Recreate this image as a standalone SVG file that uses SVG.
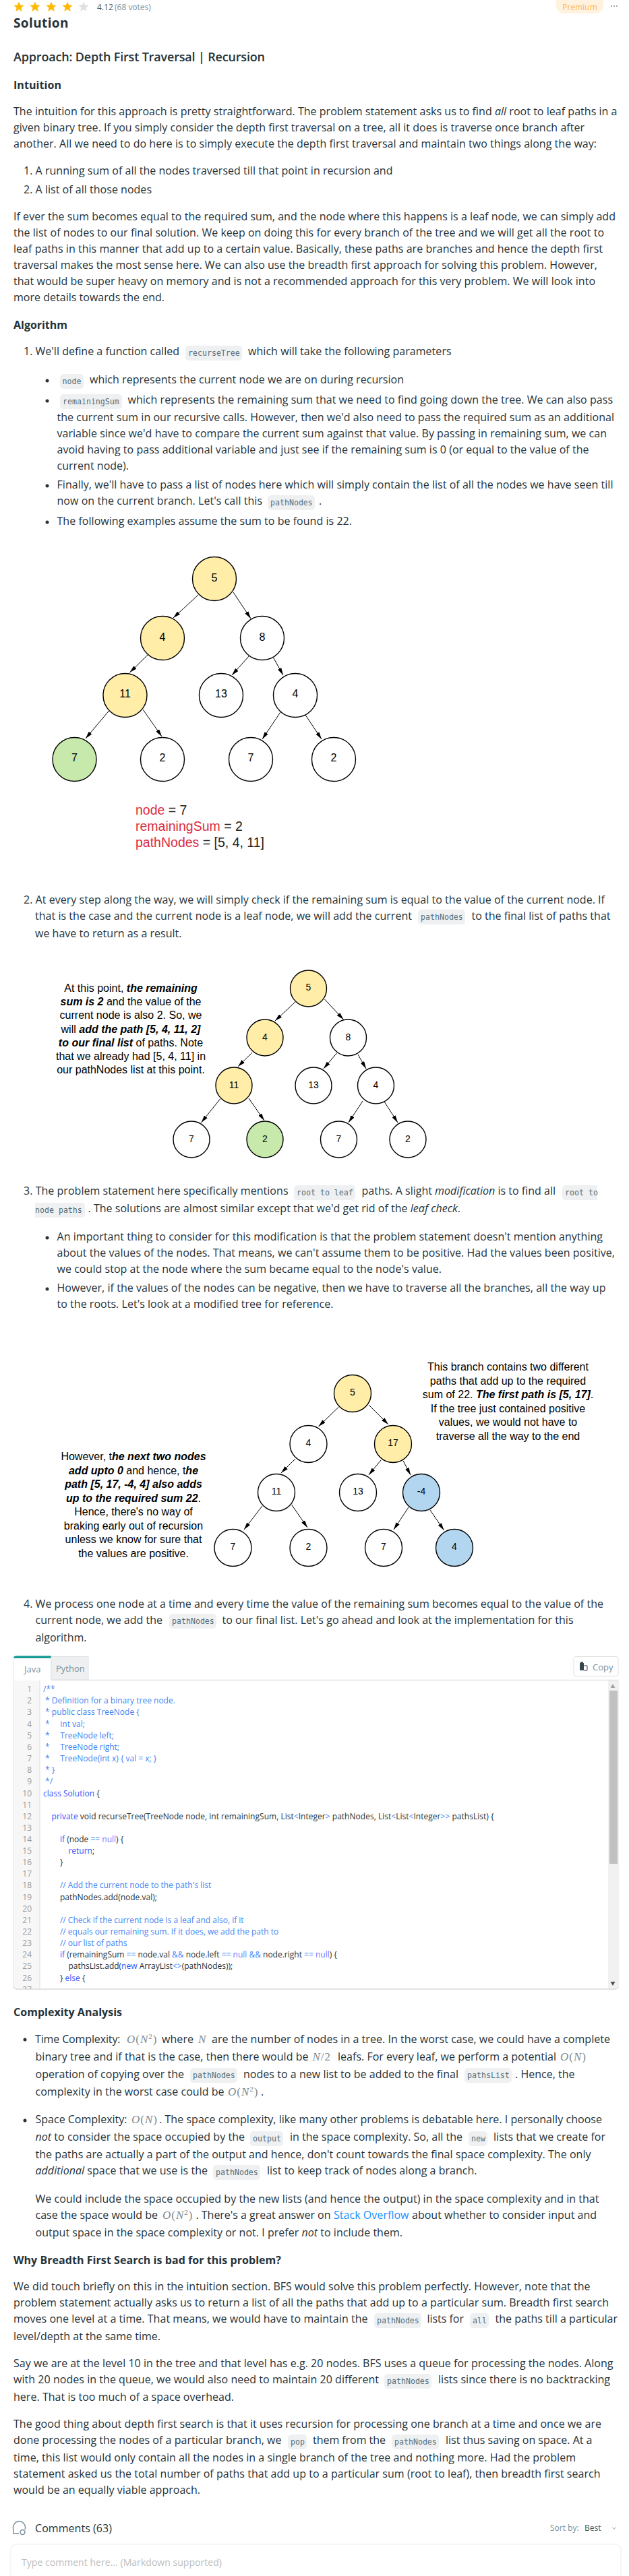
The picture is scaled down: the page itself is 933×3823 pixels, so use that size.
<svg xmlns="http://www.w3.org/2000/svg" width="933" height="3823" viewBox="0 0 933 3823">
<style>
text{font-family:"Open Sans","Noto Sans",sans-serif;font-size:16px;fill:#263238;white-space:pre}
.h1{font-size:19px;font-weight:700}
.h2{font-size:18px;font-weight:600}
.h3{font-size:16px;font-weight:700}
.i{font-style:italic}
.mono{font-family:"DejaVu Sans Mono",monospace;font-size:11.6px;fill:#546e7a}
.pill{fill:#eff0f1}
.m{font-family:"Liberation Serif",serif;font-size:17px;fill:#7f8a90;letter-spacing:1px}
.mi{font-style:italic}
.sup{font-size:11px}
.bul{fill:#263238}
.edge{stroke:#000;stroke-width:1;fill:none;marker-end:url(#arrow)}
.n{stroke:#000;stroke-width:1.4;fill:#fff}
.y{fill:#ffeda8}.g{fill:#c7e9ac}.b{fill:#b3d6f0}
.lb{font-family:"Liberation Sans",Arial,sans-serif;font-size:16px;fill:#000;text-anchor:middle}
.ls{font-size:14px}
.note{font-family:"Liberation Sans",Arial,sans-serif;font-size:16px;fill:#000;text-anchor:middle}
.note tspan.e{font-weight:700;font-style:italic}
.red{font-family:"Liberation Sans",Arial,sans-serif;font-size:19.5px;fill:#222}
.red tspan{fill:#db2c42}
.c{font-size:12px;fill:#263238}
.cc{fill:#4285f4}.ck{fill:#2f55ff}.cn{fill:#7a7aff}.co{fill:#3b82ff}
.ln{font-size:12px;fill:#999;text-anchor:end}
</style>
<defs>
<marker id="arrow" markerUnits="userSpaceOnUse" viewBox="0 0 11 6" refX="11" refY="3" markerWidth="11" markerHeight="6" orient="auto"><path d="M0 0L11 3L0 6Z" fill="#000"/></marker>
<polygon id="star" points="0,-8 2.12,-2.91 7.6,-2.47 3.42,1.11 4.7,6.47 0,3.6 -4.7,6.47 -3.42,1.11 -7.6,-2.47 -2.12,-2.91"/>
<clipPath id="codeclip"><rect x="20" y="2493" width="897" height="459"/></clipPath>
</defs>
<rect width="933" height="3823" fill="#fff"/>

<g id="header">
<use href="#star" x="28" y="10.5" fill="#ffb800"/><use href="#star" x="52" y="10.5" fill="#ffb800"/><use href="#star" x="76" y="10.5" fill="#ffb800"/><use href="#star" x="100" y="10.5" fill="#ffb800"/><use href="#star" x="124" y="10.5" fill="#e0e0e0"/>
<text x="144" y="15" style="font-size:12px;fill:#455a64">4.12</text>
<text x="170" y="15" style="font-size:12px;fill:#78909c">(68 votes)</text>
<rect x="825" y="-10" width="70" height="30" rx="12" fill="#fff3e0"/>
<text x="860" y="15" style="font-size:12px;fill:#ffb74d;text-anchor:middle">Premium</text>
<circle cx="907" cy="9" r="1" fill="#78909c"/><circle cx="911" cy="9" r="1" fill="#78909c"/><circle cx="915" cy="9" r="1" fill="#78909c"/>
<text class="h1" x="20" y="41" textLength="81.500">Solution</text>
<text class="h2" x="20" y="91" textLength="373">Approach: Depth First Traversal | Recursion</text>
<text class="h3" x="20" y="132" textLength="71">Intuition</text>
</g>

<g id="intuition">
<text x="20" y="171" textLength="895.500">The intuition for this approach is pretty straightforward. The problem statement asks us to find <tspan class="i">all</tspan> root to leaf paths in a</text>
<text x="20" y="195" textLength="847">given binary tree. If you simply consider the depth first traversal on a tree, all it does is traverse once branch after</text>
<text x="20" y="219" textLength="865">another. All we need to do here is to simply execute the depth first traversal and maintain two things along the way:</text>
<text x="35" y="259" textLength="547.500">1. A running sum of all the nodes traversed till that point in recursion and</text>
<text x="35" y="287" textLength="190">2. A list of all those nodes</text>
<text x="20" y="327" textLength="893">If ever the sum becomes equal to the required sum, and the node where this happens is a leaf node, we can simply add</text>
<text x="20" y="351" textLength="876">the list of nodes to our final solution. We keep on doing this for every branch of the tree and we will get all the root to</text>
<text x="20" y="375" textLength="874">leaf paths in this manner that add up to a certain value. Basically, these paths are branches and hence the depth first</text>
<text x="20" y="399" textLength="866">traversal makes the most sense here. We can also use the breadth first approach for solving this problem. However,</text>
<text x="20" y="423" textLength="863">that would be super heavy on memory and is not a recommended approach for this very problem. We will look into</text>
<text x="20" y="447" textLength="224">more details towards the end.</text>
</g>

<g id="algorithm">
<text class="h3" x="20" y="488" textLength="80">Algorithm</text>
<text x="35" y="527" textLength="231">1. We'll define a function called</text>
<rect class="pill" x="275" y="513" width="84" height="22" rx="5"/><text class="mono" x="279" y="528">recurseTree</text>
<text x="368" y="527" textLength="301.600">which will take the following parameters</text>
<circle class="bul" cx="70" cy="565" r="2.5"/>
<rect class="pill" x="89" y="555" width="35" height="22" rx="5"/><text class="mono" x="92.500" y="570">node</text>
<text x="133" y="569" textLength="466">which represents the current node we are on during recursion</text>
<circle class="bul" cx="70" cy="595" r="2.5"/>
<rect class="pill" x="89" y="585" width="92" height="22" rx="5"/><text class="mono" x="93" y="600">remainingSum</text>
<text x="189.500" y="599" textLength="719.500">which represents the remaining sum that we need to find going down the tree. We can also pass</text>
<text x="84.500" y="625" textLength="826.500">the current sum in our recursive calls. However, then we'd also need to pass the required sum as an additional</text>
<text x="84.500" y="649" textLength="815.500">variable since we'd have to compare the current sum against that value. By passing in remaining sum, we can</text>
<text x="84.500" y="673" textLength="789">avoid having to pass additional variable and just see if the remaining sum is 0 (or equal to the value of the</text>
<text x="84.500" y="697" textLength="106.500">current node).</text>
<circle class="bul" cx="70" cy="721" r="2.5"/>
<text x="84.500" y="725" textLength="825">Finally, we'll have to pass a list of nodes here which will simply contain the list of all the nodes we have seen till</text>
<text x="84.500" y="749" textLength="304.500">now on the current branch. Let's call this</text>
<rect class="pill" x="397" y="735" width="70" height="22" rx="5"/><text class="mono" x="401" y="750">pathNodes</text>
<text x="473" y="749">.</text>
<circle class="bul" cx="70" cy="775" r="2.5"/>
<text x="84.500" y="779" textLength="437.500">The following examples assume the sum to be found is 22.</text>
</g>

<g id="tree1-connectors">
<path class="edge" d="M294 883L257 917"/><path class="edge" d="M346 879L372 918"/><path class="edge" d="M219 972L192.500 998"/><path class="edge" d="M369 974L344 1002"/><path class="edge" d="M405.500 976L420 1002"/><path class="edge" d="M161.500 1055L127 1096"/><path class="edge" d="M212 1053L240 1093"/><path class="edge" d="M416 1057L389 1097"/><path class="edge" d="M453 1061L477 1097"/>
</g>
<g id="t1-5"><circle class="n y" cx="318" cy="859" r="32.5"/><text class="lb" x="318" y="863">5</text></g>
<g id="t1-4a"><circle class="n y" cx="241" cy="947" r="32.5"/><text class="lb" x="241" y="951">4</text></g>
<g id="t1-8"><circle class="n" cx="389" cy="947" r="32.5"/><text class="lb" x="389" y="951">8</text></g>
<g id="t1-11"><circle class="n y" cx="185.500" cy="1032" r="32.5"/><text class="lb" x="185.500" y="1035">11</text></g>
<g id="t1-13"><circle class="n" cx="328" cy="1032" r="32.5"/><text class="lb" x="328" y="1035">13</text></g>
<g id="t1-4b"><circle class="n" cx="438" cy="1032" r="32.5"/><text class="lb" x="438" y="1035">4</text></g>
<g id="t1-7a"><circle class="n g" cx="110.500" cy="1127" r="32.5"/><text class="lb" x="110.500" y="1130">7</text></g>
<g id="t1-2a"><circle class="n" cx="241" cy="1127" r="32.5"/><text class="lb" x="241" y="1130">2</text></g>
<g id="t1-7b"><circle class="n" cx="372" cy="1127" r="32.5"/><text class="lb" x="372" y="1130">7</text></g>
<g id="t1-2b"><circle class="n" cx="495" cy="1127" r="32.5"/><text class="lb" x="495" y="1130">2</text></g>
<g id="t1-note">
<text class="red" x="201" y="1209"><tspan>node</tspan> = 7</text>
<text class="red" x="201" y="1233"><tspan>remainingSum</tspan> = 2</text>
<text class="red" x="201" y="1257"><tspan>pathNodes</tspan> = [5, 4, 11]</text>
</g>

<g id="step2">
<text x="35" y="1341" textLength="862">2. At every step along the way, we will simply check if the remaining sum is equal to the value of the current node. If</text>
<text x="52" y="1365" textLength="559">that is the case and the current node is a leaf node, we will add the current</text>
<rect class="pill" x="620" y="1350" width="70" height="22" rx="5"/><text class="mono" x="624" y="1365">pathNodes</text>
<text x="699.500" y="1365" textLength="206">to the final list of paths that</text>
<text x="52" y="1391" textLength="217.500">we have to return as a result.</text>
</g>

<g id="tree2-connectors">
<path class="edge" d="M438 1487L408 1515"/><path class="edge" d="M481.500 1483L509.500 1513"/><path class="edge" d="M374 1562L353 1583"/><path class="edge" d="M499.500 1563L480 1586"/><path class="edge" d="M531 1565L543 1586"/><path class="edge" d="M326.500 1631L298.500 1666"/><path class="edge" d="M369 1630L392 1663"/><path class="edge" d="M538 1634L517 1666"/><path class="edge" d="M570 1635L590 1666"/>
</g>
<g id="t2-5"><circle class="n y" cx="457.500" cy="1467" r="27"/><text class="lb ls" x="457.500" y="1470">5</text></g>
<g id="t2-4a"><circle class="n y" cx="393" cy="1540" r="27"/><text class="lb ls" x="393" y="1544">4</text></g>
<g id="t2-8"><circle class="n" cx="516.500" cy="1540" r="27"/><text class="lb ls" x="516.500" y="1544">8</text></g>
<g id="t2-11"><circle class="n y" cx="347" cy="1611" r="27"/><text class="lb ls" x="347" y="1615">11</text></g>
<g id="t2-13"><circle class="n" cx="465" cy="1611" r="27"/><text class="lb ls" x="465" y="1615">13</text></g>
<g id="t2-4b"><circle class="n" cx="557.500" cy="1611" r="27"/><text class="lb ls" x="557.500" y="1615">4</text></g>
<g id="t2-7a"><circle class="n" cx="284" cy="1691" r="27"/><text class="lb ls" x="284" y="1695">7</text></g>
<g id="t2-2a"><circle class="n g" cx="393" cy="1691" r="27"/><text class="lb ls" x="393" y="1695">2</text></g>
<g id="t2-7b"><circle class="n" cx="502.500" cy="1691" r="27"/><text class="lb ls" x="502.500" y="1695">7</text></g>
<g id="t2-2b"><circle class="n" cx="605" cy="1691" r="27"/><text class="lb ls" x="605" y="1695">2</text></g>
<g id="t2-note">
<text class="note" x="194" y="1472">At this point, <tspan class="e">the remaining</tspan></text>
<text class="note" x="194" y="1492"><tspan class="e">sum is 2</tspan> and the value of the</text>
<text class="note" x="194" y="1512">current node is also 2. So, we</text>
<text class="note" x="194" y="1532.500">will <tspan class="e">add the path [5, 4, 11, 2]</tspan></text>
<text class="note" x="194" y="1553"><tspan class="e">to our final list</tspan> of paths. Note</text>
<text class="note" x="194" y="1573">that we already had [5, 4, 11] in</text>
<text class="note" x="194" y="1593">our pathNodes list at this point.</text>
</g>

<g id="step3">
<text x="35" y="1773" textLength="392.500">3. The problem statement here specifically mentions</text>
<rect class="pill" x="436" y="1759" width="91" height="22" rx="5"/><text class="mono" x="440" y="1774">root to leaf</text>
<text x="536.500" y="1773" textLength="287.500">paths. A slight <tspan class="i">modification</tspan> is to find all</text>
<path class="pill" d="M886 1759H839a5 5 0 0 0-5 5V1776a5 5 0 0 0 5 5H886Z"/><text class="mono" x="838" y="1774">root to</text>
<path class="pill" d="M52 1785H121a5 5 0 0 1 5 5V1802a5 5 0 0 1-5 5H52Z"/><text class="mono" x="52" y="1800">node paths</text>
<text x="130.500" y="1799" textLength="552.500">. The solutions are almost similar except that we'd get rid of the <tspan class="i">leaf check</tspan>.</text>
<circle class="bul" cx="70" cy="1837" r="2.5"/>
<text x="84.500" y="1841" textLength="809.500">An important thing to consider for this modification is that the problem statement doesn't mention anything</text>
<text x="84.500" y="1865" textLength="827.500">about the values of the nodes. That means, we can't assume them to be positive. Had the values been positive,</text>
<text x="84.500" y="1889" textLength="570.500">we could stop at the node where the sum became equal to the node's value.</text>
<circle class="bul" cx="70" cy="1913" r="2.5"/>
<text x="84.500" y="1917" textLength="814">However, if the values of the nodes can be negative, then we have to traverse all the branches, all the way up</text>
<text x="84.500" y="1941" textLength="410">to the roots. Let's look at a modified tree for reference.</text>
</g>

<g id="tree3-connectors">
<path class="edge" d="M502.500 2088L472.500 2117"/><path class="edge" d="M547 2085L576 2114"/><path class="edge" d="M438 2165L417 2186"/><path class="edge" d="M565 2167L547 2189"/><path class="edge" d="M598 2168L609 2189"/><path class="edge" d="M389 2235L362 2270"/><path class="edge" d="M432.500 2233L456 2267"/><path class="edge" d="M606 2237L584 2270"/><path class="edge" d="M638 2241L658.500 2271"/>
</g>
<g id="t3-5"><circle class="n y" cx="523" cy="2068" r="27.5"/><text class="lb ls" x="523" y="2071">5</text></g>
<g id="t3-4a"><circle class="n" cx="457.500" cy="2143" r="27.5"/><text class="lb ls" x="457.500" y="2146">4</text></g>
<g id="t3-17"><circle class="n y" cx="583" cy="2143" r="27.5"/><text class="lb ls" x="583" y="2146">17</text></g>
<g id="t3-11"><circle class="n" cx="410" cy="2215" r="27.5"/><text class="lb ls" x="410" y="2218">11</text></g>
<g id="t3-13"><circle class="n" cx="531" cy="2215" r="27.5"/><text class="lb ls" x="531" y="2218">13</text></g>
<g id="t3-m4"><circle class="n b" cx="625" cy="2215" r="27.5"/><text class="lb ls" x="625" y="2218">-4</text></g>
<g id="t3-7a"><circle class="n" cx="345.500" cy="2297" r="27.5"/><text class="lb ls" x="345.500" y="2300">7</text></g>
<g id="t3-2"><circle class="n" cx="457.500" cy="2297" r="27.5"/><text class="lb ls" x="457.500" y="2300">2</text></g>
<g id="t3-7b"><circle class="n" cx="569" cy="2297" r="27.5"/><text class="lb ls" x="569" y="2300">7</text></g>
<g id="t3-4b"><circle class="n b" cx="674" cy="2297" r="27.5"/><text class="lb ls" x="674" y="2300">4</text></g>
<g id="t3-note-right">
<text class="note" x="753.500" y="2034">This branch contains two different</text>
<text class="note" x="753.500" y="2054.500">paths that add up to the required</text>
<text class="note" x="753.500" y="2075">sum of 22. <tspan class="e">The first path is [5, 17]</tspan>.</text>
<text class="note" x="753.500" y="2095.500">If the tree just contained positive</text>
<text class="note" x="753.500" y="2116">values, we would not have to</text>
<text class="note" x="753.500" y="2136.500">traverse all the way to the end</text>
</g>
<g id="t3-note-left">
<text class="note" x="198" y="2167">However, t<tspan class="e">he next two nodes</tspan></text>
<text class="note" x="198" y="2187.500"><tspan class="e">add upto 0</tspan> and hence, t<tspan class="e">he</tspan></text>
<text class="note" x="198" y="2208"><tspan class="e">path [5, 17, -4, 4] also adds</tspan></text>
<text class="note" x="198" y="2228.500"><tspan class="e">up to the required sum 22</tspan>.</text>
<text class="note" x="198" y="2249">Hence, there's no way of</text>
<text class="note" x="198" y="2269.500">braking early out of recursion</text>
<text class="note" x="198" y="2290">unless we know for sure that</text>
<text class="note" x="198" y="2310.500">the values are positive.</text>
</g>

<g id="step4">
<text x="35" y="2386" textLength="860">4. We process one node at a time and every time the value of the remaining sum becomes equal to the value of the</text>
<text x="52.500" y="2410" textLength="188.500">current node, we add the</text>
<rect class="pill" x="251" y="2395" width="70" height="22" rx="5"/><text class="mono" x="255" y="2410">pathNodes</text>
<text x="329.500" y="2410" textLength="521">to our final list. Let's go ahead and look at the implementation for this</text>
<text x="52.500" y="2436" textLength="76">algorithm.</text>
</g>

<g id="code-block">
<path d="M20 2493V2461a3 3 0 0 1 3-3H76V2493" fill="#fff" stroke="#e8e8e8"/>
<path d="M20.500 2461a3 3 0 0 1 3-3H76V2460.500H20.500Z" fill="#1a9a95" stroke="#1a9a95"/>
<path d="M76 2458.500H131V2493H76Z" fill="#eef0f1" stroke="#dfe2e3"/>
<text x="36" y="2482" style="font-size:13px;fill:#78909c">Java</text>
<text x="83" y="2481" style="font-size:13px;fill:#78909c">Python</text>
<rect x="851" y="2458.500" width="66" height="29" rx="3" fill="#fff" stroke="#e0e0e0"/>
<path d="M860 2468H866L866 2479H860Z" fill="#37474f"/><path d="M866 2472H871V2479H866" fill="#fff" stroke="#37474f"/><rect x="861" y="2466.500" width="4" height="2" fill="#37474f"/>
<text x="879" y="2479" style="font-size:13px;fill:#78909c">Copy</text>
<path d="M76 2493.500H917" stroke="#ddd" stroke-width="1.5"/>
<path d="M20.500 2494V2948a4 4 0 0 0 4 4H913a4 4 0 0 0 4-4V2494" fill="#fff" stroke="#e0e0e0"/>
<rect x="21" y="2494" width="38" height="458" fill="#f7f7f7"/>
<path d="M59 2494V2952" stroke="#ddd"/>
<rect x="902" y="2494" width="15" height="458" fill="#f1f1f1"/>
<rect x="904" y="2509" width="12" height="257" fill="#c1c1c1"/>
<path d="M909 2499L912.500 2505H905.500Z" fill="#a3a3a3"/>
<path d="M909 2947L912.500 2941H905.500Z" fill="#505050"/>
<path d="M20.500 2948a4 4 0 0 0 4 4H913a4 4 0 0 0 4-4" fill="none" stroke="#ddd" stroke-width="1.5"/>
<g clip-path="url(#codeclip)">
<text class="ln" x="47" y="2511">1</text><text class="ln" x="47" y="2528">2</text><text class="ln" x="47" y="2545">3</text><text class="ln" x="47" y="2562.500">4</text><text class="ln" x="47" y="2580">5</text><text class="ln" x="47" y="2597">6</text><text class="ln" x="47" y="2614">7</text><text class="ln" x="47" y="2631">8</text><text class="ln" x="47" y="2648">9</text><text class="ln" x="47" y="2665.500">10</text><text class="ln" x="47" y="2682.500">11</text><text class="ln" x="47" y="2700">12</text><text class="ln" x="47" y="2717">13</text><text class="ln" x="47" y="2734">14</text><text class="ln" x="47" y="2751">15</text><text class="ln" x="47" y="2768">16</text><text class="ln" x="47" y="2785">17</text><text class="ln" x="47" y="2802">18</text><text class="ln" x="47" y="2820">19</text><text class="ln" x="47" y="2837">20</text><text class="ln" x="47" y="2854">21</text><text class="ln" x="47" y="2871">22</text><text class="ln" x="47" y="2888">23</text><text class="ln" x="47" y="2905">24</text><text class="ln" x="47" y="2922">25</text><text class="ln" x="47" y="2939.500">26</text><text class="ln" x="47" y="2956.500">27</text>
<text class="c cc" x="64" y="2511">/**</text>
<text class="c cc" x="64" y="2528"> * Definition for a binary tree node.</text>
<text class="c cc" x="64" y="2545"> * public class TreeNode {</text>
<text class="c cc" x="64" y="2562.500"> *     int val;</text>
<text class="c cc" x="64" y="2580"> *     TreeNode left;</text>
<text class="c cc" x="64" y="2597"> *     TreeNode right;</text>
<text class="c cc" x="64" y="2614"> *     TreeNode(int x) { val = x; }</text>
<text class="c cc" x="64" y="2631"> * }</text>
<text class="c cc" x="64" y="2648"> */</text>
<text class="c" x="64" y="2665.500"><tspan class="ck">class</tspan> <tspan class="ck">Solution</tspan> {</text>
<text class="c" x="64" y="2700" textLength="668.500">    <tspan class="ck">private</tspan> void recurseTree(TreeNode node, int remainingSum, List<tspan class="co">&lt;</tspan>Integer<tspan class="co">&gt;</tspan> pathNodes, List<tspan class="co">&lt;</tspan>List<tspan class="co">&lt;</tspan>Integer<tspan class="co">&gt;&gt;</tspan> pathsList) {</text>
<text class="c" x="64" y="2734">        <tspan class="ck">if</tspan> (node <tspan class="co">==</tspan> <tspan class="cn">null</tspan>) {</text>
<text class="c" x="64" y="2751">            <tspan class="ck">return</tspan>;</text>
<text class="c" x="64" y="2768">        }</text>
<text class="c cc" x="64" y="2802">        // Add the current node to the path's list</text>
<text class="c" x="64" y="2820">        pathNodes.add(node.val);</text>
<text class="c cc" x="64" y="2854">        // Check if the current node is a leaf and also, if it</text>
<text class="c cc" x="64" y="2871">        // equals our remaining sum. If it does, we add the path to</text>
<text class="c cc" x="64" y="2888">        // our list of paths</text>
<text class="c" x="64" y="2905">        <tspan class="ck">if</tspan> (remainingSum <tspan class="co">==</tspan> node.val <tspan class="co">&amp;&amp;</tspan> node.left <tspan class="co">==</tspan> <tspan class="cn">null</tspan> <tspan class="co">&amp;&amp;</tspan> node.right <tspan class="co">==</tspan> <tspan class="cn">null</tspan>) {</text>
<text class="c" x="64" y="2922">            pathsList.add(<tspan class="ck">new</tspan> ArrayList<tspan class="co">&lt;&gt;</tspan>(pathNodes));</text>
<text class="c" x="64" y="2939.500">        } <tspan class="ck">else</tspan> {</text>
</g>
</g>

<g id="complexity">
<text class="h3" x="20" y="2992" textLength="161">Complexity Analysis</text>
<circle class="bul" cx="37" cy="3027" r="2.5"/>
<text x="52" y="3032" textLength="126.500">Time Complexity:</text>
<text class="m" x="188" y="3032"><tspan class="mi">O</tspan>(<tspan class="mi">N</tspan><tspan class="sup" dy="-6">2</tspan><tspan dy="6">)</tspan></text>
<text x="240" y="3032" textLength="47">where</text>
<text class="m mi" x="294" y="3032">N</text>
<text x="314" y="3032" textLength="591">are the number of nodes in a tree. In the worst case, we could have a complete</text>
<text x="52.500" y="3058" textLength="405">binary tree and if that is the case, then there would be</text>
<text class="m" x="463.500" y="3058"><tspan class="mi">N</tspan>/2</text>
<text x="501" y="3058" textLength="324">leafs. For every leaf, we perform a potential</text>
<text class="m" x="831" y="3058"><tspan class="mi">O</tspan>(<tspan class="mi">N</tspan>)</text>
<text x="52.500" y="3084" textLength="220.500">operation of copying over the</text>
<rect class="pill" x="282" y="3069" width="70" height="22" rx="5"/><text class="mono" x="286" y="3084">pathNodes</text>
<text x="361" y="3084" textLength="319">nodes to a new list to be added to the final</text>
<rect class="pill" x="689" y="3069" width="70" height="22" rx="5"/><text class="mono" x="693" y="3084">pathsList</text>
<text x="764" y="3084" textLength="88.500">. Hence, the</text>
<text x="52.500" y="3110" textLength="280">complexity in the worst case could be</text>
<text class="m" x="338" y="3110"><tspan class="mi">O</tspan>(<tspan class="mi">N</tspan><tspan class="sup" dy="-6">2</tspan><tspan dy="6">)</tspan></text>
<text x="387" y="3110">.</text>
<circle class="bul" cx="37" cy="3147" r="2.5"/>
<text x="52.500" y="3151" textLength="136">Space Complexity:</text>
<text class="m" x="195" y="3151"><tspan class="mi">O</tspan>(<tspan class="mi">N</tspan>)</text>
<text x="236" y="3151" textLength="657">. The space complexity, like many other problems is debatable here. I personally choose</text>
<text x="52.500" y="3177" textLength="310.500"><tspan class="i">not</tspan> to consider the space occupied by the</text>
<rect class="pill" x="371" y="3163" width="49" height="22" rx="5"/><text class="mono" x="375" y="3178">output</text>
<text x="430" y="3177" textLength="256">in the space complexity. So, all the</text>
<rect class="pill" x="695" y="3163" width="28" height="22" rx="5"/><text class="mono" x="699" y="3178">new</text>
<text x="732" y="3177" textLength="166">lists that we create for</text>
<text x="52.500" y="3203" textLength="824">the paths are actually a part of the output and hence, don't count towards the final space complexity. The only</text>
<text x="52.500" y="3227" textLength="255.500"><tspan class="i">additional</tspan> space that we use is the</text>
<rect class="pill" x="316" y="3213" width="70" height="22" rx="5"/><text class="mono" x="320" y="3228">pathNodes</text>
<text x="396" y="3227" textLength="311.500">list to keep track of nodes along a branch.</text>
<text x="52.500" y="3269" textLength="836">We could include the space occupied by the new lists (and hence the output) in the space complexity and in that</text>
<text x="52.500" y="3293" textLength="181.500">case the space would be</text>
<text class="m" x="241" y="3293"><tspan class="mi">O</tspan>(<tspan class="mi">N</tspan><tspan class="sup" dy="-6">2</tspan><tspan dy="6">)</tspan></text>
<text x="290.500" y="3293" textLength="200">. There's a great answer on</text>
<text x="495" y="3293" textLength="111.500" style="fill:#1a90ff">Stack Overflow</text>
<text x="611" y="3293" textLength="274">about whether to consider input and</text>
<text x="52.500" y="3319" textLength="544.500">output space in the space complexity or not. I prefer <tspan class="i">not</tspan> to include them.</text>
</g>

<g id="why-bfs">
<text class="h3" x="20" y="3360" textLength="397">Why Breadth First Search is bad for this problem?</text>
<text x="20" y="3399" textLength="855.500">We did touch briefly on this in the intuition section. BFS would solve this problem perfectly. However, note that the</text>
<text x="20" y="3423" textLength="883">problem statement actually asks us to return a list of all the paths that add up to a particular sum. Breadth first search</text>
<text x="20" y="3447" textLength="525.500">moves one level at a time. That means, we would have to maintain the</text>
<rect class="pill" x="555" y="3433" width="70" height="22" rx="5"/><text class="mono" x="559" y="3448">pathNodes</text>
<text x="633.500" y="3447" textLength="54.500">lists for</text>
<rect class="pill" x="697" y="3433" width="28" height="22" rx="5"/><text class="mono" x="701" y="3448">all</text>
<text x="734.500" y="3447" textLength="181.500">the paths till a particular</text>
<text x="20" y="3473" textLength="218">level/depth at the same time.</text>
<text x="20" y="3513" textLength="889.500">Say we are at the level 10 in the tree and that level has e.g. 20 nodes. BFS uses a queue for processing the nodes. Along</text>
<text x="20" y="3537" textLength="542">with 20 nodes in the queue, we would also need to maintain 20 different</text>
<rect class="pill" x="570" y="3523" width="70" height="22" rx="5"/><text class="mono" x="574" y="3538">pathNodes</text>
<text x="650" y="3537" textLength="255">lists since there is no backtracking</text>
<text x="20" y="3563" textLength="327">here. That is too much of a space overhead.</text>
<text x="20" y="3603" textLength="872">The good thing about depth first search is that it uses recursion for processing one branch at a time and once we are</text>
<text x="20" y="3627" textLength="397.500">done processing the nodes of a particular branch, we</text>
<rect class="pill" x="427" y="3613" width="28" height="22" rx="5"/><text class="mono" x="431" y="3628">pop</text>
<text x="464" y="3627" textLength="108">them from the</text>
<rect class="pill" x="581" y="3613" width="70" height="22" rx="5"/><text class="mono" x="585" y="3628">pathNodes</text>
<text x="661" y="3627" textLength="217.500">list thus saving on space. At a</text>
<text x="20" y="3653" textLength="834">time, this list would only contain all the nodes in a single branch of the tree and nothing more. Had the problem</text>
<text x="20" y="3677" textLength="870.500">statement asked us the total number of paths that add up to a particular sum (root to leaf), then breadth first search</text>
<text x="20" y="3701" textLength="277">would be an equally viable approach.</text>
</g>

<g id="comments">
<path d="M37 3754A9 9 0 1 0 20 3754V3760H28" fill="none" stroke="#78909c" stroke-width="1.5"/>
<circle cx="33.500" cy="3758" r="3.500" fill="none" stroke="#78909c" stroke-width="1.500"/>
<text x="52" y="3758" textLength="114" style="font-size:16px">Comments (63)</text>
<text x="816" y="3756" style="font-size:12px;fill:#78909c">Sort by:</text>
<text x="867" y="3756" style="font-size:12px;fill:#455a64">Best</text>
<path d="M908.500 3750.500L911 3753.500L913.500 3750.500" fill="none" stroke="#90a4ae"/>
<rect x="16" y="3776" width="905" height="70" rx="8" fill="#fff" stroke="#f2f2f2" stroke-width="1.5"/>
<text x="32" y="3808" textLength="297" style="font-size:14px;fill:#bdbdbd">Type comment here... (Markdown supported)</text>
</g>
</svg>
